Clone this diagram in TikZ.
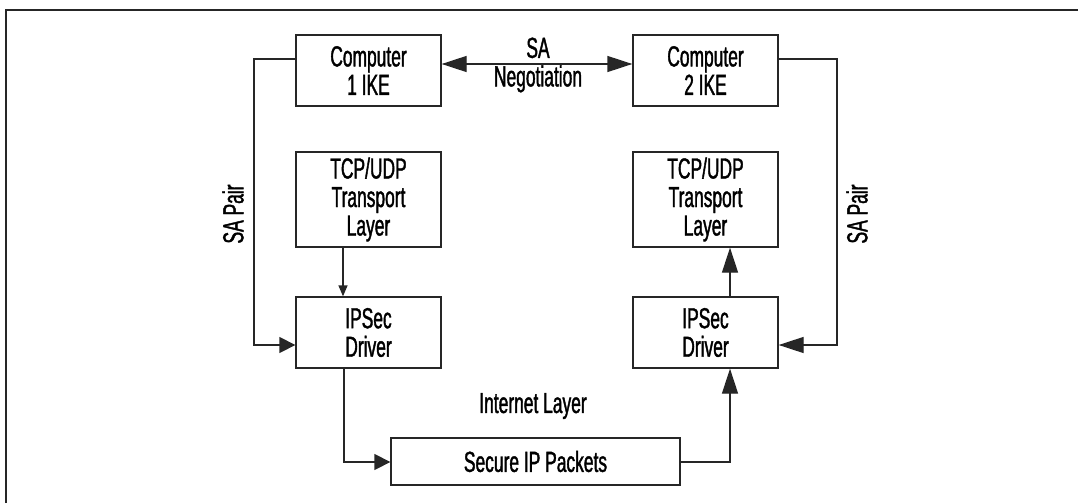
\documentclass[tikz,border=0pt]{standalone}
\usepackage{fontspec}
\setmainfont{Liberation Sans}[FakeStretch=0.6, FakeBold=1.3]
\usetikzlibrary{arrows.meta}
\definecolor{ink}{gray}{0.15}
\tikzset{
  box/.style={draw=ink, line width=1.3pt, rectangle, inner sep=0pt, align=center,
    font=\fontsize{29}{28.5}\selectfont, text=black},
  lbl/.style={inner sep=0pt, align=center, font=\fontsize{29}{28.5}\selectfont, text=black},
  conn/.style={draw=ink, line width=1.3pt},
  bigtip/.style={-{Triangle[length=25pt,width=16pt]}},
  midtip/.style={-{Triangle[length=16pt,width=16pt]}},
  smalltip/.style={-{Triangle[length=11pt,width=9pt]}},
}
\begin{document}
\begin{tikzpicture}[x=1pt,y=-1pt]
\useasboundingbox (0,0) rectangle (1078,503);
% frame
\draw[ink, line width=2pt] (6,503) -- (6,10) -- (1078,10);
% nodes
\node[box, minimum width=145pt, minimum height=71pt] (c1) at (368.5,70.5) {Computer\\1 IKE};
\node[box, minimum width=145pt, minimum height=71pt] (c2) at (705.5,70.5) {Computer\\2 IKE};
\node[box, minimum width=145pt, minimum height=95pt] (t1) at (368.5,199.5) {TCP/UDP\\Transport\\Layer};
\node[box, minimum width=145pt, minimum height=95pt] (t2) at (705.5,199.5) {TCP/UDP\\Transport\\Layer};
\node[box, minimum width=145pt, minimum height=71pt] (d1) at (368.5,332.5) {IPSec\\Driver};
\node[box, minimum width=145pt, minimum height=71pt] (d2) at (705.5,332.5) {IPSec\\Driver};
\node[box, minimum width=289pt, minimum height=47pt] (sp) at (535.5,461.5) {Secure IP Packets};
% labels
\node[lbl] (neg) at (538,65) {SA\\Negotiation};
\node[lbl] (il) at (533,406) {Internet Layer};
\node[lbl, rotate=90] (sal) at (233,214) {SA Pair};
\node[lbl, rotate=90] (sar) at (857,214) {SA Pair};
% coordinates
\coordinate (l1) at (254,59);
\coordinate (l2) at (254,345);
\coordinate (r1) at (837,59);
\coordinate (r2) at (837,345);
\coordinate (b1) at (344,462);
\coordinate (b2) at (730,462);
% connectors
\draw[conn, {Triangle[length=25pt,width=16pt]}-{Triangle[length=25pt,width=16pt]}] (c1.east |- 0,64) -- (c2.west |- 0,64);
\draw[conn, midtip] (c1.west |- l1) -- (l1) -- (l2) -- (d1.west |- l2);
\draw[conn, bigtip] (c2.east |- r1) -- (r1) -- (r2) -- (d2.east |- r2);
\draw[conn, smalltip] (t1.south -| 343,0) -- (d1.north -| 343,0);
\draw[conn, bigtip] (d2.north -| 730,0) -- (t2.south -| 730,0);
\draw[conn, midtip] (d1.south -| b1) -- (b1) -- (sp.west |- b1);
\draw[conn, bigtip] (sp.east |- b2) -- (b2) -- (d2.south -| b2);
\end{tikzpicture}
\end{document}
